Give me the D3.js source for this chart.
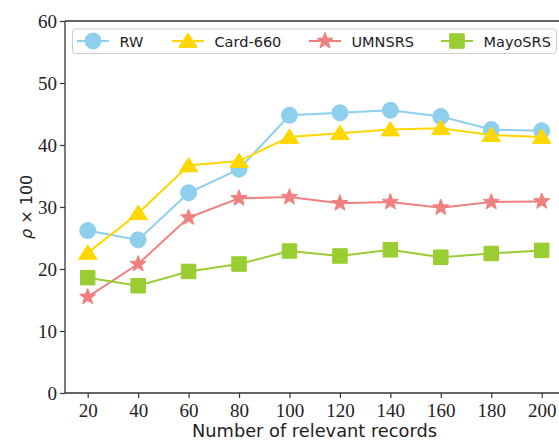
<!DOCTYPE html>
<html><head><meta charset="utf-8">
<script src="https://cdn.jsdelivr.net/npm/d3@7"></script>
<style>body{margin:0;background:#fff}svg{display:block}</style>
</head><body>
<svg id="c" width="559" height="440"></svg>
<script>
const xValues = [20,40,60,80,100,120,140,160,180,200];
const rw      = [26.2,24.7,32.3,36.1,44.8,45.2,45.6,44.6,42.5,42.3];
const card660 = [22.6,29.0,36.7,37.4,41.3,41.9,42.5,42.7,41.6,41.3];
const umnsrs  = [15.5,20.8,28.3,31.4,31.6,30.6,30.8,29.9,30.8,30.9];
const mayosrs = [18.6,17.3,19.6,20.8,22.9,22.1,23.1,21.9,22.5,23.0];
const seriesNames = ["RW","Card-660","UMNSRS","MayoSRS"];
const yTicks = [0,10,20,30,40,50,60];

const svg = d3.select("#c");
const L=65, T=21, B=393, R=564.4;
const x = d3.scaleLinear().domain([11,209]).range([L,R]);
const y = d3.scaleLinear().domain([0,60]).range([B,T]);

// custom marker shapes
const triUp = {draw(ctx,s){const h=s;ctx.moveTo(0,-h*0.5);ctx.lineTo(h*0.58,h*0.4);ctx.lineTo(-h*0.58,h*0.4);ctx.closePath();}};
const star = {draw(ctx,s){const ro=s, ri=s*0.42;for(let i=0;i<10;i++){const r=i%2?ri:ro;const a=-Math.PI/2+i*Math.PI/5;const px=r*Math.cos(a),py=r*Math.sin(a);if(i)ctx.lineTo(px,py);else ctx.moveTo(px,py);}ctx.closePath();}};
const sq = {draw(ctx,s){ctx.rect(-s/2,-s/2,s,s);}};
const circ = {draw(ctx,s){ctx.moveTo(s,0);ctx.arc(0,0,s,0,2*Math.PI);}};

const series = [
  {name:seriesNames[0], vals:rw, color:"#8ecfee", type:circ, size:8},
  {name:seriesNames[1], vals:card660, color:"#ffd700", type:triUp, size:16},
  {name:seriesNames[2], vals:umnsrs, color:"#f08080", type:star, size:8.5},
  {name:seriesNames[3], vals:mayosrs, color:"#9acd32", type:sq, size:14.5},
];

const line = d3.line().x((d,i)=>x(xValues[i])).y(d=>y(d));
const g = svg.append("g");
series.forEach(s=>{
  g.append("path").attr("d",line(s.vals)).attr("fill","none").attr("stroke",s.color).attr("stroke-width",2);
  g.selectAll(null).data(s.vals).enter().append("path")
    .attr("transform",(d,i)=>`translate(${x(xValues[i])},${y(d)})`)
    .attr("d",d3.symbol().type(s.type).size(s.size)())
    .attr("fill",s.color).attr("stroke",s.color).attr("stroke-width",1);
});

// axes
const axCol="#333";
const xa = svg.append("g").attr("transform",`translate(0,${B})`)
  .call(d3.axisBottom(x).tickValues(xValues).tickSize(5).tickPadding(3));
const ya = svg.append("g").attr("transform",`translate(${L},0)`)
  .call(d3.axisLeft(y).tickValues(yTicks).tickSize(5).tickPadding(3));
[xa,ya].forEach(a=>{
  a.select(".domain").remove();
  a.selectAll("line").attr("stroke",axCol).attr("stroke-width",1.2);
  a.selectAll("text").attr("font-family","'Liberation Serif', serif").attr("font-size",19).attr("fill","#222");
});
xa.selectAll("text").attr("dy","0.85em");
ya.selectAll("text").attr("dy","0.35em");
// spines
svg.append("line").attr("x1",L).attr("x2",R+2).attr("y1",B).attr("y2",B).attr("stroke",axCol).attr("stroke-width",1.3);
svg.append("line").attr("x1",L).attr("x2",R+2).attr("y1",T).attr("y2",T).attr("stroke",axCol).attr("stroke-width",1.3);
svg.append("line").attr("x1",L).attr("x2",L).attr("y1",T).attr("y2",B).attr("stroke",axCol).attr("stroke-width",1.3);

// axis labels
svg.append("text").attr("x",(87+542)/2).attr("y",436.5).attr("text-anchor","middle")
  .attr("font-family","'DejaVu Sans', sans-serif").attr("font-size",17.8).attr("fill","#222")
  .text("Number of relevant records");
const yl = svg.append("text").attr("font-family","'DejaVu Sans', sans-serif").attr("font-size",16).attr("fill","#222")
  .attr("text-anchor","start").attr("transform",`translate(32,${(T+B)/2 + 32}) rotate(-90)`);
yl.append("tspan").attr("font-style","italic").text("ρ");
yl.append("tspan").text(" × 100");

// legend
const lg = svg.append("g");
lg.append("rect").attr("x",72.5).attr("y",29).attr("width",484).attr("height",24.5).attr("rx",3)
  .attr("fill","#fff").attr("fill-opacity",0.8).attr("stroke","#ccc").attr("stroke-width",1);
const lx = [77,172,309,441];
series.forEach((s,i)=>{
  const gg = lg.append("g").attr("transform",`translate(${lx[i]},41)`);
  gg.append("line").attr("x1",0).attr("x2",32).attr("stroke",s.color).attr("stroke-width",2);
  gg.append("path").attr("transform","translate(16,0)").attr("d",d3.symbol().type(s.type).size(s.size)())
    .attr("fill",s.color).attr("stroke",s.color);
  gg.append("text").attr("x",42.5).attr("y",5.5).attr("font-family","'DejaVu Sans', sans-serif")
    .attr("font-size",14.5).attr("fill","#222").text(s.name);
});
</script>
</body></html>
